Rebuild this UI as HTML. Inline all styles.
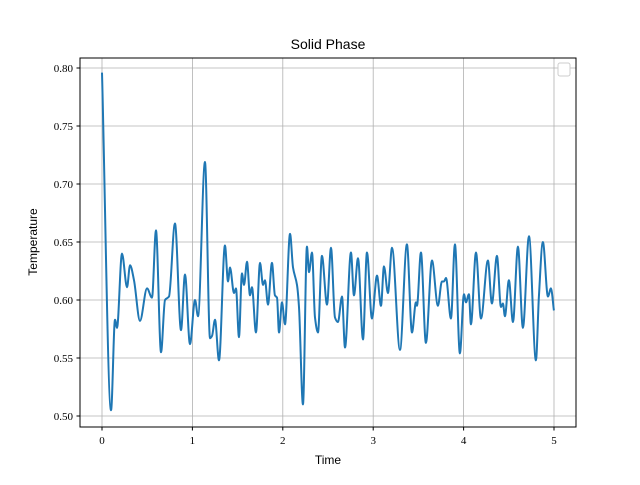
<!DOCTYPE html>
<html><head><meta charset="utf-8"><style>
body{margin:0;background:#fff}
svg text{font-family:"Liberation Serif",serif;font-size:11px;fill:#000}
</style></head><body>
<svg id="c" width="640" height="480" xmlns="http://www.w3.org/2000/svg">
<rect width="640" height="480" fill="#fff"/>
<g id="grid"></g>
<g id="ticks"></g>
<path id="line" fill="none" stroke="#1f77b4" stroke-width="2"/>
<rect x="80" y="58" width="496" height="369" fill="none" stroke="#000" stroke-width="1"/>
<rect x="558" y="63" width="12" height="13" rx="2" fill="#fff" stroke="#ccc"/>
<text x="328" y="49" text-anchor="middle" style="font-family:'Liberation Sans',sans-serif;font-size:14px">Solid Phase</text>
<text x="328" y="464" text-anchor="middle" style="font-family:'Liberation Sans',sans-serif;font-size:12px">Time</text>
<text transform="translate(37,242) rotate(-90)" text-anchor="middle" style="font-family:'Liberation Sans',sans-serif;font-size:12px">Temperature</text>
</svg>
<script>
const times=[0,0.100,0.144,0.166,0.221,0.277,0.310,0.354,0.420,0.498,0.553,0.597,0.653,0.697,0.741,0.807,0.874,0.918,0.973,1.029,1.062,1.139,1.195,1.217,1.250,1.294,1.360,1.394,1.416,1.460,1.482,1.515,1.548,1.571,1.604,1.637,1.659,1.703,1.748,1.781,1.803,1.836,1.880,1.913,1.936,1.958,1.991,2.024,2.080,2.113,2.157,2.179,2.223,2.267,2.290,2.323,2.356,2.389,2.433,2.489,2.533,2.577,2.610,2.655,2.688,2.754,2.787,2.832,2.887,2.931,2.986,3.042,3.086,3.119,3.163,3.208,3.296,3.373,3.429,3.473,3.484,3.528,3.583,3.650,3.716,3.760,3.783,3.805,3.860,3.904,3.959,4.004,4.026,4.059,4.081,4.137,4.192,4.269,4.313,4.369,4.413,4.435,4.457,4.501,4.546,4.601,4.656,4.723,4.800,4.833,4.877,4.933,4.966,4.999];
const temps=[0.796,0.505,0.583,0.576,0.640,0.611,0.630,0.617,0.582,0.610,0.602,0.660,0.555,0.600,0.603,0.666,0.574,0.622,0.562,0.600,0.586,0.719,0.567,0.569,0.583,0.548,0.647,0.616,0.628,0.606,0.610,0.568,0.623,0.613,0.633,0.604,0.611,0.572,0.632,0.613,0.617,0.596,0.632,0.604,0.602,0.572,0.598,0.579,0.657,0.628,0.613,0.594,0.510,0.646,0.624,0.641,0.585,0.572,0.638,0.596,0.645,0.585,0.581,0.603,0.559,0.641,0.604,0.636,0.566,0.641,0.584,0.621,0.595,0.629,0.606,0.645,0.557,0.648,0.572,0.598,0.595,0.641,0.563,0.634,0.595,0.616,0.616,0.619,0.584,0.648,0.554,0.605,0.598,0.605,0.579,0.641,0.584,0.634,0.597,0.638,0.594,0.597,0.586,0.617,0.581,0.646,0.576,0.655,0.548,0.603,0.650,0.603,0.610,0.591];
const xTicks=[0,1,2,3,4,5];
const yTicks=[0.50,0.55,0.60,0.65,0.70,0.75,0.80];
const X=t=>102+t*90.4, Y=v=>416-(v-0.5)*1160;
const NS="http://www.w3.org/2000/svg";
const grid=document.getElementById('grid'), ticks=document.getElementById('ticks');
function mk(tag,a,p){const e=document.createElementNS(NS,tag);for(const k in a)e.setAttribute(k,a[k]);p.appendChild(e);return e;}
xTicks.forEach(t=>{
  const g=mk('line',{x1:X(t),x2:X(t),y1:58,y2:427,stroke:'#b0b0b0','stroke-width':0.8},grid);
  
  
  const k=mk('line',{x1:X(t),x2:X(t),y1:427,y2:430.5,stroke:'#000'},ticks);
  
  
  const tx=mk('text',{x:X(t),y:444,'text-anchor':'middle'},ticks);tx.textContent=t;
  
  
});
yTicks.forEach(v=>{
  const g=mk('line',{x1:80,x2:576,y1:Y(v),y2:Y(v),stroke:'#b0b0b0','stroke-width':0.8},grid);
  
  
  const k=mk('line',{x1:76.5,x2:80,y1:Y(v),y2:Y(v),stroke:'#000'},ticks);
  
  
  const tx=mk('text',{x:73,y:Y(v)+4,'text-anchor':'end'},ticks);tx.textContent=v.toFixed(2);
  
  
});
// monotone cubic
const n=times.length, px=times.map(X), py=temps.map(Y);
const d=[],m=[];
for(let i=0;i<n-1;i++)d.push((py[i+1]-py[i])/(px[i+1]-px[i]));
for(let i=0;i<n;i++){
  if(i==0)m.push(d[0]);else if(i==n-1)m.push(d[n-2]);
  else m.push(d[i-1]*d[i]<=0?0:2/(1/d[i-1]+1/d[i]));
}
let s=`M${px[0]},${py[0]}`;
for(let i=0;i<n-1;i++){
  const h=(px[i+1]-px[i])/3;
  s+=`C${px[i]+h},${py[i]+m[i]*h} ${px[i+1]-h},${py[i+1]-m[i+1]*h} ${px[i+1]},${py[i+1]}`;
}
document.getElementById('line').setAttribute('d',s);
</script>
</body></html>
